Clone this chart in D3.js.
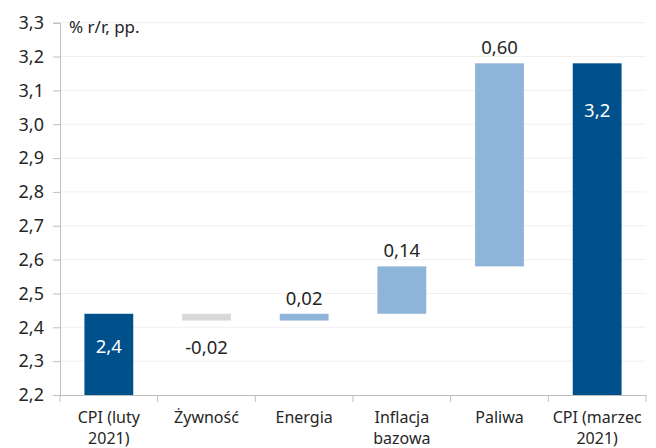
<!DOCTYPE html>
<html>
<head>
<meta charset="utf-8">
<script src="https://cdn.jsdelivr.net/npm/d3@7"></script>
<style>
  html, body { margin: 0; padding: 0; background: #fff; }
  svg { display: block; font-family: "Noto Sans", Lato, sans-serif; }
</style>
</head>
<body>
<svg id="chart" width="656" height="448"></svg>
<script>
// Waterfall: CPI change decomposition, % r/r, pp.
const categories = [["CPI (luty", "2021)"], ["Żywność"], ["Energia"], ["Inflacja", "bazowa"], ["Paliwa"], ["CPI (marzec", "2021)"]];
const kinds = ["total", "delta", "delta", "delta", "delta", "total"];
const values = [2.44, -0.02, 0.02, 0.14, 0.60, 3.18];
const valueLabels = ["2,4", "-0,02", "0,02", "0,14", "0,60", "3,2"];
const yTicks = [2.2, 2.3, 2.4, 2.5, 2.6, 2.7, 2.8, 2.9, 3.0, 3.1, 3.2, 3.3];
const unitLabel = "% r/r, pp.";

const svg = d3.select("#chart");
const margin = { left: 60, right: 10, top: 22.7, bottom: 53 };
const plotRight = 646;

const x = d3.scaleBand()
  .domain(d3.range(categories.length))
  .range([margin.left, plotRight])
  .paddingInner(0.5)
  .paddingOuter(0.25);

const y = d3.scaleLinear().domain([2.2, 3.3]).range([395, margin.top]);

// build waterfall segments
let running = 0;
const bars = values.map((v, i) => {
  let lo, hi;
  if (kinds[i] === "total") { lo = 2.2; hi = v; running = v; }
  else { const s = running; running = s + v; lo = Math.min(s, running); hi = Math.max(s, running); }
  return { i, v, lo, hi, kind: kinds[i] };
});

const fmt = d => d3.format(".1f")(d).replace(".", ",");
const textColor = "#262626";

// gridlines
svg.append("g").selectAll("line").data(yTicks.slice(1)).join("line")
  .attr("x1", margin.left).attr("x2", plotRight)
  .attr("y1", d => y(d)).attr("y2", d => y(d))
  .attr("stroke", "#f0f0f0").attr("stroke-width", 1);

// y axis
const yAxis = svg.append("g").attr("transform", `translate(${margin.left},0)`)
  .call(d3.axisLeft(y).tickValues(yTicks).tickFormat(fmt).tickSizeOuter(0).tickSize(7).tickPadding(9));
yAxis.select(".domain").attr("stroke", "#bfbfbf");
yAxis.selectAll(".tick line").attr("stroke", "#bfbfbf");
yAxis.selectAll("text").attr("fill", textColor).style("font-size", "18px").style("font-family", "'Noto Sans', sans-serif");

// bars
const colorFor = b => b.kind === "total" ? "#00508c" : (b.v < 0 ? "#d9d9d9" : "#8fb4da");
svg.append("g").selectAll("rect").data(bars).join("rect")
  .attr("x", b => x(b.i)).attr("width", x.bandwidth())
  .attr("y", b => y(b.hi)).attr("height", b => y(b.lo) - y(b.hi))
  .attr("fill", colorFor);

// x axis with category boundary ticks
const xAxisG = svg.append("g");
xAxisG.append("line").attr("x1", margin.left).attr("x2", plotRight).attr("y1", 395.5).attr("y2", 395.5).attr("stroke", "#bfbfbf");
const bounds = d3.range(categories.length + 1).map(k => margin.left + k * x.step());
xAxisG.selectAll(".bt").data(bounds).join("line")
  .attr("x1", d => d).attr("x2", d => d).attr("y1", 395).attr("y2", 402).attr("stroke", "#bfbfbf");
xAxisG.selectAll(".cl").data(categories).join("text")
  .attr("x", (d, i) => x(i) + x.bandwidth() / 2)
  .attr("y", 423)
  .attr("text-anchor", "middle")
  .attr("fill", textColor)
  .style("font-size", "16px")
  .each(function(lines) {
    d3.select(this).selectAll("tspan").data(lines).join("tspan")
      .attr("x", d3.select(this).attr("x"))
      .attr("dy", (l, j) => j === 0 ? 0 : 21)
      .text(l => l);
  });

// value labels
svg.append("g").selectAll("text").data(bars).join("text")
  .attr("x", b => x(b.i) + x.bandwidth() / 2)
  .attr("y", b => {
    if (b.kind === "total") {
      const h = y(b.lo) - y(b.hi);
      return y(b.hi) + Math.min(47, h * 0.4) + 7;
    }
    return b.v < 0 ? y(b.lo) + 33 : y(b.hi) - 9;
  })
  .attr("text-anchor", "middle")
  .attr("fill", b => b.kind === "total" ? "#fff" : textColor)
  .style("font-size", "18.5px")
  .text((b, i) => valueLabels[i]);

// unit label
svg.append("text").attr("x", 69).attr("y", 33).attr("fill", textColor).style("font-size", "17px").text(unitLabel);
</script>
</body>
</html>
